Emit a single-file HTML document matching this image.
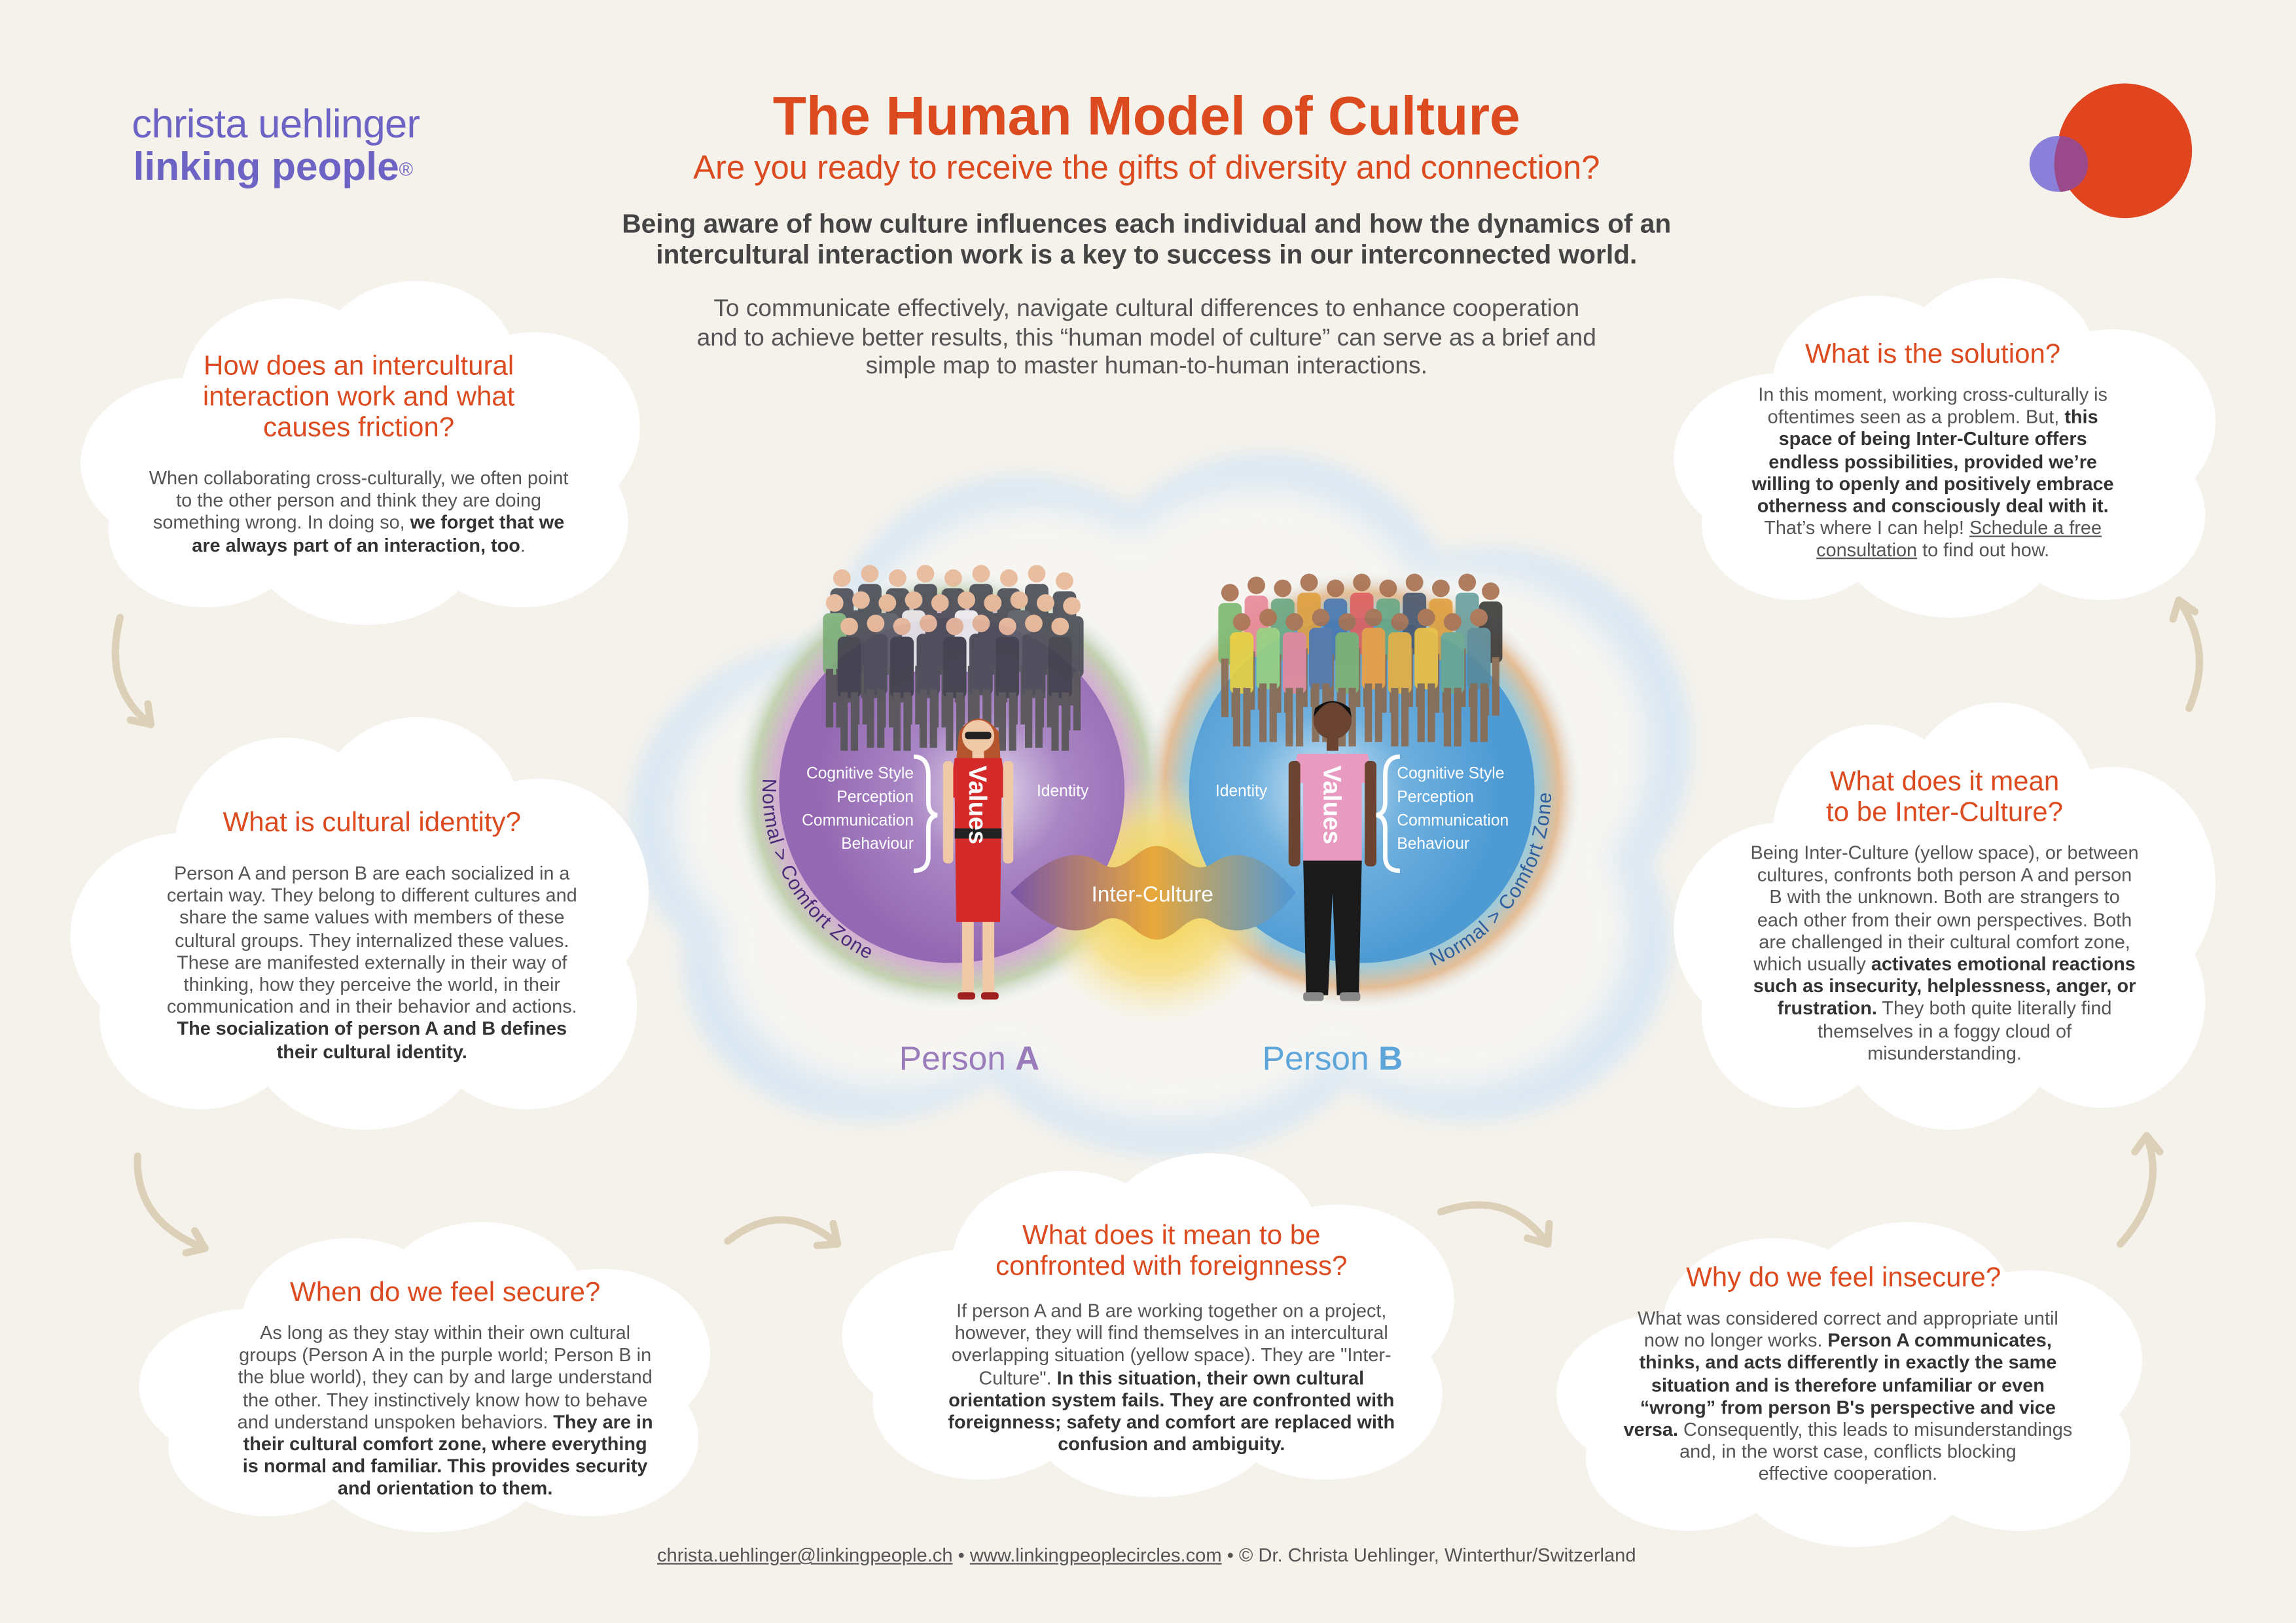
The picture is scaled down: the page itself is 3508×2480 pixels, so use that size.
<!DOCTYPE html>
<html><head><meta charset="utf-8">
<style>
*{margin:0;padding:0;box-sizing:border-box}
html,body{width:3508px;height:2480px;overflow:hidden;background:#f5f2eb}
#w{position:absolute;left:0;top:0;width:1568px;height:1109px;transform:scale(2.23724,2.2363);transform-origin:0 0;font-family:"Liberation Sans",sans-serif;color:#555}
.cloud{position:absolute}
.cloud span{position:absolute;border-radius:50%;background:#fff}
.t{position:absolute;text-align:center;transform:translateX(-50%)}
.ct{font-size:18.8px;line-height:21px;color:#dc4a1f}
.cb{font-size:12.9px;line-height:15.2px;color:#555}
.cb b{color:#333}
</style></head><body><div id="w">

<div style="position:absolute;left:90px;top:70px;font-size:27.5px;color:#6c63c4;line-height:30px;letter-spacing:-0.3px">christa uehlinger</div>
<div style="position:absolute;left:91px;top:99px;font-size:27px;font-weight:bold;color:#6c63c4;line-height:30px">linking people<sup style="font-size:13px;font-weight:normal;vertical-align:top;position:relative;top:2px">®</sup></div>
<div class="t" style="left:783px;top:58px;font-size:37.5px;font-weight:bold;color:#dc4a1f;white-space:nowrap">The Human Model of Culture</div>
<div class="t" style="left:783px;top:101px;font-size:22.7px;color:#dc4a1f;white-space:nowrap">Are you ready to receive the gifts of diversity and connection?</div>
<div class="t" style="left:783px;top:143px;font-size:18.2px;line-height:21px;font-weight:bold;color:#444;white-space:nowrap">Being aware of how culture influences each individual and how the dynamics of an<br>intercultural interaction work is a key to success in our interconnected world.</div>
<div class="t" style="left:783px;top:201px;font-size:16.6px;line-height:19.5px;color:#555;white-space:nowrap">To communicate effectively, navigate cultural differences to enhance cooperation<br>and to achieve better results, this “human model of culture” can serve as a brief and<br>simple map to master human-to-human interactions.</div>
<svg style="position:absolute;left:0;top:0" width="1568" height="1109">
<circle cx="1451" cy="103" r="46" fill="#e0451f"/>
<circle cx="1405" cy="112" r="19" fill="#8b80d9"/>
<path d="M1407,93 A19,19 0 0 1 1407,131 A46,46 0 0 1 1407,93Z" fill="#9a4a8a"/>
</svg>

<div class="cloud" style="left:430px;top:300px;width:725px;height:490px;filter:blur(6px)">
<span style="left:0;top:28%;width:40%;height:50%;background:#dbe8f3"></span><span style="left:18%;top:5%;width:38%;height:55%;background:#dbe8f3"></span><span style="left:42%;top:2%;width:36%;height:50%;background:#dbe8f3"></span><span style="left:62%;top:15%;width:38%;height:55%;background:#dbe8f3"></span><span style="left:60%;top:45%;width:38%;height:50%;background:#dbe8f3"></span><span style="left:30%;top:48%;width:42%;height:52%;background:#dbe8f3"></span><span style="left:5%;top:50%;width:35%;height:45%;background:#dbe8f3"></span><span style="left:10%;top:15%;width:80%;height:72%;background:#dbe8f3"></span>
</div>
<div class="cloud" style="left:460px;top:325px;width:665px;height:440px;filter:blur(10px)">
<span style="left:0;top:28%;width:40%;height:50%;background:#f6f5f1"></span><span style="left:18%;top:5%;width:38%;height:55%;background:#f6f5f1"></span><span style="left:42%;top:2%;width:36%;height:50%;background:#f6f5f1"></span><span style="left:62%;top:15%;width:38%;height:55%;background:#f6f5f1"></span><span style="left:60%;top:45%;width:38%;height:50%;background:#f6f5f1"></span><span style="left:30%;top:48%;width:42%;height:52%;background:#f6f5f1"></span><span style="left:5%;top:50%;width:35%;height:45%;background:#f6f5f1"></span><span style="left:10%;top:15%;width:80%;height:72%;background:#f6f5f1"></span>
</div>

<div class="cloud" style="left:55px;top:192px;width:382px;height:235px"><span style="left:0;top:28%;width:40%;height:50%"></span><span style="left:18%;top:5%;width:38%;height:55%"></span><span style="left:42%;top:0;width:36%;height:50%"></span><span style="left:62%;top:15%;width:38%;height:55%"></span><span style="left:60%;top:45%;width:38%;height:50%"></span><span style="left:30%;top:48%;width:42%;height:52%"></span><span style="left:5%;top:50%;width:35%;height:45%"></span><span style="left:10%;top:15%;width:80%;height:72%"></span></div>
<div class="cloud" style="left:48px;top:490px;width:395px;height:282px"><span style="left:0;top:28%;width:40%;height:50%"></span><span style="left:18%;top:5%;width:38%;height:55%"></span><span style="left:42%;top:0;width:36%;height:50%"></span><span style="left:62%;top:15%;width:38%;height:55%"></span><span style="left:60%;top:45%;width:38%;height:50%"></span><span style="left:30%;top:48%;width:42%;height:52%"></span><span style="left:5%;top:50%;width:35%;height:45%"></span><span style="left:10%;top:15%;width:80%;height:72%"></span></div>
<div class="cloud" style="left:95px;top:835px;width:390px;height:212px"><span style="left:0;top:28%;width:40%;height:50%"></span><span style="left:18%;top:5%;width:38%;height:55%"></span><span style="left:42%;top:0;width:36%;height:50%"></span><span style="left:62%;top:15%;width:38%;height:55%"></span><span style="left:60%;top:45%;width:38%;height:50%"></span><span style="left:30%;top:48%;width:42%;height:52%"></span><span style="left:5%;top:50%;width:35%;height:45%"></span><span style="left:10%;top:15%;width:80%;height:72%"></span></div>
<div class="cloud" style="left:575px;top:788px;width:418px;height:235px"><span style="left:0;top:28%;width:40%;height:50%"></span><span style="left:18%;top:5%;width:38%;height:55%"></span><span style="left:42%;top:0;width:36%;height:50%"></span><span style="left:62%;top:15%;width:38%;height:55%"></span><span style="left:60%;top:45%;width:38%;height:50%"></span><span style="left:30%;top:48%;width:42%;height:52%"></span><span style="left:5%;top:50%;width:35%;height:45%"></span><span style="left:10%;top:15%;width:80%;height:72%"></span></div>
<div class="cloud" style="left:1063px;top:835px;width:400px;height:222px"><span style="left:0;top:28%;width:40%;height:50%"></span><span style="left:18%;top:5%;width:38%;height:55%"></span><span style="left:42%;top:0;width:36%;height:50%"></span><span style="left:62%;top:15%;width:38%;height:55%"></span><span style="left:60%;top:45%;width:38%;height:50%"></span><span style="left:30%;top:48%;width:42%;height:52%"></span><span style="left:5%;top:50%;width:35%;height:45%"></span><span style="left:10%;top:15%;width:80%;height:72%"></span></div>
<div class="cloud" style="left:1143px;top:480px;width:370px;height:292px"><span style="left:0;top:28%;width:40%;height:50%"></span><span style="left:18%;top:5%;width:38%;height:55%"></span><span style="left:42%;top:0;width:36%;height:50%"></span><span style="left:62%;top:15%;width:38%;height:55%"></span><span style="left:60%;top:45%;width:38%;height:50%"></span><span style="left:30%;top:48%;width:42%;height:52%"></span><span style="left:5%;top:50%;width:35%;height:45%"></span><span style="left:10%;top:15%;width:80%;height:72%"></span></div>
<div class="cloud" style="left:1143px;top:190px;width:370px;height:232px"><span style="left:0;top:28%;width:40%;height:50%"></span><span style="left:18%;top:5%;width:38%;height:55%"></span><span style="left:42%;top:0;width:36%;height:50%"></span><span style="left:62%;top:15%;width:38%;height:55%"></span><span style="left:60%;top:45%;width:38%;height:50%"></span><span style="left:30%;top:48%;width:42%;height:52%"></span><span style="left:5%;top:50%;width:35%;height:45%"></span><span style="left:10%;top:15%;width:80%;height:72%"></span></div>

<svg style="position:absolute;left:0;top:0" width="1568" height="1109">
<defs>
<radialGradient id="halo"><stop offset="0.8" stop-color="#c9a0c8"/><stop offset="0.9" stop-color="#b8c9a0"/><stop offset="1" stop-color="#dde8f0" stop-opacity="0"/></radialGradient>
<radialGradient id="haloB"><stop offset="0.8" stop-color="#8cc0d0"/><stop offset="0.9" stop-color="#e0b080"/><stop offset="1" stop-color="#dde8f0" stop-opacity="0"/></radialGradient>
<radialGradient id="pa" cx="0.6" cy="0.5"><stop offset="0" stop-color="#e6dcee"/><stop offset="0.45" stop-color="#a986c4"/><stop offset="1" stop-color="#9468b2"/></radialGradient>
<radialGradient id="pb" cx="0.4" cy="0.5"><stop offset="0" stop-color="#d8eaf6"/><stop offset="0.45" stop-color="#6fb0de"/><stop offset="1" stop-color="#4e9bd4"/></radialGradient>
<radialGradient id="yel"><stop offset="0" stop-color="#f4cf3a"/><stop offset="0.6" stop-color="#f6dc7a" stop-opacity="0.8"/><stop offset="1" stop-color="#f6e6b0" stop-opacity="0"/></radialGradient>
<linearGradient id="ic" x1="0" x2="1"><stop offset="0" stop-color="#7a55a8"/><stop offset="0.5" stop-color="#e8a83a"/><stop offset="1" stop-color="#4f98d6"/></linearGradient>
<symbol id="p" overflow="visible"><rect x="-8" y="7" width="16" height="42" rx="4"/><rect x="-6" y="45" width="5" height="40" fill="#555"/><rect x="1" y="45" width="5" height="40" fill="#555"/><circle cx="0" cy="0" r="6" fill="#e8b898"/></symbol>
<symbol id="q" overflow="visible"><rect x="-8" y="7" width="16" height="42" rx="4"/><rect x="-6" y="45" width="5" height="40" fill="#8a6a50"/><rect x="1" y="45" width="5" height="40" fill="#8a6a50"/><circle cx="0" cy="0" r="6" fill="#a87050"/></symbol>
</defs>
<circle cx="650" cy="540" r="150" fill="url(#halo)" opacity="0.8"/>
<circle cx="930" cy="540" r="150" fill="url(#haloB)" opacity="0.8"/>
<circle cx="790" cy="615" r="85" fill="url(#yel)"/>
<circle cx="650" cy="540" r="118" fill="url(#pa)"/>
<circle cx="930" cy="540" r="118" fill="url(#pb)"/>
<g fill="#4a4c55" opacity="0.9">
<use href="#p" x="575" y="395"/><use href="#p" x="594" y="392"/><use href="#p" x="613" y="395"/><use href="#p" x="632" y="392"/><use href="#p" x="651" y="395"/><use href="#p" x="670" y="392"/><use href="#p" x="689" y="395"/><use href="#p" x="708" y="392"/><use href="#p" x="727" y="397"/>
<use href="#p" x="570" y="412" fill="#7cae78"/><use href="#p" x="588" y="410"/><use href="#p" x="606" y="412" fill="#5a5d66"/><use href="#p" x="624" y="410" fill="#e8e8e8"/><use href="#p" x="642" y="412"/><use href="#p" x="660" y="410" fill="#f0f0f0"/><use href="#p" x="678" y="412"/><use href="#p" x="696" y="410" fill="#5a5d66"/><use href="#p" x="714" y="412"/><use href="#p" x="732" y="414"/>
<use href="#p" x="580" y="428" fill="#3e4048"/><use href="#p" x="598" y="426"/><use href="#p" x="616" y="428" fill="#3e4048"/><use href="#p" x="634" y="426"/><use href="#p" x="652" y="428" fill="#3e4048"/><use href="#p" x="670" y="426"/><use href="#p" x="688" y="428" fill="#3e4048"/><use href="#p" x="706" y="426"/><use href="#p" x="724" y="428" fill="#3e4048"/>
</g>
<g fill="#6aa884" opacity="0.9">
<use href="#q" x="840" y="405" fill="#7cb870"/><use href="#q" x="858" y="400" fill="#e8889a"/><use href="#q" x="876" y="402"/><use href="#q" x="894" y="398" fill="#e0a040"/><use href="#q" x="912" y="402" fill="#4a78b0"/><use href="#q" x="930" y="398" fill="#e06060"/><use href="#q" x="948" y="402"/><use href="#q" x="966" y="398" fill="#4a5870"/><use href="#q" x="984" y="402" fill="#e0a040"/><use href="#q" x="1002" y="398" fill="#6aa0a0"/><use href="#q" x="1018" y="404" fill="#3a3a3a"/>
<use href="#q" x="848" y="425" fill="#e8d040"/><use href="#q" x="866" y="422" fill="#9ad080"/><use href="#q" x="884" y="425" fill="#e8889a"/><use href="#q" x="902" y="422" fill="#5878a8"/><use href="#q" x="920" y="425" fill="#80b070"/><use href="#q" x="938" y="422" fill="#f0a040"/><use href="#q" x="956" y="425" fill="#e8b040"/><use href="#q" x="974" y="422" fill="#f0c040"/><use href="#q" x="992" y="425" fill="#6aa890"/><use href="#q" x="1010" y="422" fill="#5a8a9a"/>
</g>
<path d="M690,610 C715,585 735,578 752,590 C768,600 775,578 790,578 C805,578 812,600 828,590 C845,578 865,585 885,610 C865,635 845,642 828,630 C812,620 805,642 790,642 C775,642 768,620 752,630 C735,642 715,635 690,610Z" fill="url(#ic)"/>
<text x="787" y="616" font-size="15" fill="#fff" text-anchor="middle" font-family="Liberation Sans">Inter-Culture</text>
<g>
<path d="M655,500 Q668,482 682,500 L684,530 L652,530Z" fill="#b5552e"/>
<circle cx="668" cy="503" r="11" fill="#f0c9a8"/>
<rect x="659" y="500" width="18" height="5" fill="#222" rx="2"/>
<rect x="664" y="512" width="8" height="8" fill="#f0c9a8"/>
<path d="M652,518 L684,518 L688,545 L684,545 L683,630 L653,630 L652,545 L648,545Z" fill="#d42a2a"/>
<rect x="652" y="566" width="32" height="7" fill="#222"/>
<rect x="644" y="520" width="7" height="70" fill="#f0c9a8" rx="3"/><rect x="685" y="520" width="7" height="70" fill="#f0c9a8" rx="3"/>
<rect x="657" y="630" width="8" height="50" fill="#f0c9a8"/><rect x="671" y="630" width="8" height="50" fill="#f0c9a8"/>
<rect x="654" y="678" width="12" height="5" fill="#a02020" rx="2"/><rect x="670" y="678" width="12" height="5" fill="#a02020" rx="2"/>
<text transform="translate(662,550) rotate(90)" font-size="17" fill="#fff" font-weight="bold" text-anchor="middle" font-family="Liberation Sans">Values</text>
</g>
<g>
<circle cx="910" cy="492" r="13" fill="#6a4430"/>
<path d="M897,490 Q910,470 923,490 L922,484 Q910,474 898,484Z" fill="#111"/>
<rect x="906" y="503" width="8" height="10" fill="#6a4430"/>
<path d="M886,515 L934,515 L938,535 L930,535 L930,590 L890,590 L890,535 L882,535Z" fill="#e89ac0"/>
<rect x="880" y="520" width="8" height="72" fill="#6a4430" rx="3"/><rect x="932" y="520" width="8" height="72" fill="#6a4430" rx="3"/>
<path d="M890,588 L930,588 L928,680 L913,680 L910,610 L907,680 L892,680Z" fill="#1a1a1a"/>
<rect x="890" y="678" width="14" height="6" fill="#888" rx="2"/><rect x="915" y="678" width="14" height="6" fill="#888" rx="2"/>
<text transform="translate(904,550) rotate(90)" font-size="17" fill="#fff" font-weight="bold" text-anchor="middle" font-family="Liberation Sans">Values</text>
</g>
<g font-family="Liberation Sans" font-size="11" fill="#fff">
<text x="624" y="532" text-anchor="end">Cognitive Style</text>
<text x="624" y="548" text-anchor="end">Perception</text>
<text x="624" y="564" text-anchor="end">Communication</text>
<text x="624" y="580" text-anchor="end">Behaviour</text>
<text x="708" y="544">Identity</text>
<text x="830" y="544">Identity</text>
<text x="954" y="532">Cognitive Style</text>
<text x="954" y="548">Perception</text>
<text x="954" y="564">Communication</text>
<text x="954" y="580">Behaviour</text>
</g>
<path d="M624,517 Q634,517 634,530 L634,548 Q634,556 640,557 Q634,558 634,566 L634,585 Q634,595 624,595" fill="none" stroke="#fff" stroke-width="3"/>
<path d="M956,517 Q946,517 946,530 L946,548 Q946,556 940,557 Q946,558 946,566 L946,585 Q946,595 956,595" fill="none" stroke="#fff" stroke-width="3"/>
<path id="arcA" d="M521,532 A129,129 0 0 0 606,661" fill="none"/>
<path id="arcB" d="M979,660 A129,129 0 0 0 1058,522" fill="none"/>
<text font-family="Liberation Sans" font-size="13.5" fill="#4b2a7a" letter-spacing="0.5"><textPath href="#arcA">Normal &gt; Comfort Zone</textPath></text>
<text font-family="Liberation Sans" font-size="13.5" fill="#2e5e9e" letter-spacing="0.5"><textPath href="#arcB">Normal &gt; Comfort Zone</textPath></text>
<text x="662" y="731" font-family="Liberation Sans" font-size="23" fill="#9a7cba" text-anchor="middle">Person <tspan font-weight="bold">A</tspan></text>
<text x="910" y="731" font-family="Liberation Sans" font-size="23" fill="#5ea5da" text-anchor="middle">Person <tspan font-weight="bold">B</tspan></text>
<g fill="none" stroke="#ddd0b8" stroke-width="5" stroke-linecap="round" stroke-linejoin="round">
<path d="M82,422 Q70,470 103,495"/><path d="M89,492 L103,495 L101,481"/>
<path d="M94,790 Q92,835 140,853"/><path d="M127,856 L140,853 L133,841"/>
<path d="M497,848 Q535,818 572,850"/><path d="M558,851 L572,850 L569,836"/>
<path d="M984,828 Q1030,812 1057,850"/><path d="M1043,846 L1057,850 L1058,836"/>
<path d="M1448,850 Q1480,815 1466,776"/><path d="M1458,787 L1466,776 L1475,787"/>
<path d="M1495,484 Q1512,445 1488,410"/><path d="M1484,423 L1488,410 L1499,418"/>
</g>
</svg>

<div class="t ct" style="left:245px;top:239px;width:330px">How does an intercultural<br>interaction work and what<br>causes friction?</div>
<div class="t cb" style="left:245px;top:319px;width:360px">When collaborating cross-culturally, we often point<br>to the other person and think they are doing<br>something wrong. In doing so, <b>we forget that we<br>are always part of an interaction, too</b>.</div>

<div class="t ct" style="left:254px;top:551px;width:330px">What is cultural identity?</div>
<div class="t cb" style="left:254px;top:589px;width:360px">Person A and person B are each socialized in a<br>certain way. They belong to different cultures and<br>share the same values with members of these<br>cultural groups. They internalized these values.<br>These are manifested externally in their way of<br>thinking, how they perceive the world, in their<br>communication and in their behavior and actions.<br><b>The socialization of person A and B defines<br>their cultural identity.</b></div>

<div class="t ct" style="left:304px;top:872px;width:330px">When do we feel secure?</div>
<div class="t cb" style="left:304px;top:903px;width:360px">As long as they stay within their own cultural<br>groups (Person A in the purple world; Person B in<br>the blue world), they can by and large understand<br>the other. They instinctively know how to behave<br>and understand unspoken behaviors. <b>They are in<br>their cultural comfort zone, where everything<br>is normal and familiar. This provides security<br>and orientation to them.</b></div>

<div class="t ct" style="left:800px;top:833px;width:360px">What does it mean to be<br>confronted with foreignness?</div>
<div class="t cb" style="left:800px;top:888px;width:380px">If person A and B are working together on a project,<br>however, they will find themselves in an intercultural<br>overlapping situation (yellow space). They are "Inter-<br>Culture". <b>In this situation, their own cultural<br>orientation system fails. They are confronted with<br>foreignness; safety and comfort are replaced with<br>confusion and ambiguity.</b></div>

<div class="t ct" style="left:1259px;top:862px;width:330px">Why do we feel insecure?</div>
<div class="t cb" style="left:1262px;top:893px;width:380px">What was considered correct and appropriate until<br>now no longer works. <b>Person A communicates,<br>thinks, and acts differently in exactly the same<br>situation and is therefore unfamiliar or even<br>“wrong” from person B's perspective and vice<br>versa.</b> Consequently, this leads to misunderstandings<br>and, in the worst case, conflicts blocking<br>effective cooperation.</div>

<div class="t ct" style="left:1328px;top:523px;width:330px">What does it mean<br>to be Inter-Culture?</div>
<div class="t cb" style="left:1328px;top:575px;width:340px">Being Inter-Culture (yellow space), or between<br>cultures, confronts both person A and person<br>B with the unknown. Both are strangers to<br>each other from their own perspectives. Both<br>are challenged in their cultural comfort zone,<br>which usually <b>activates emotional reactions<br>such as insecurity, helplessness, anger, or<br>frustration.</b> They both quite literally find<br>themselves in a foggy cloud of<br>misunderstanding.</div>

<div class="t ct" style="left:1320px;top:231px;width:330px">What is the solution?</div>
<div class="t cb" style="left:1320px;top:262px;width:320px">In this moment, working cross-culturally is<br>oftentimes seen as a problem. But, <b>this<br>space of being Inter-Culture offers<br>endless possibilities, provided we’re<br>willing to openly and positively embrace<br>otherness and consciously deal with it.</b><br>That’s where I can help! <u>Schedule a free<br>consultation</u> to find out how.</div>

<div class="t" style="left:783px;top:1055px;font-size:13px;color:#555;white-space:nowrap"><u>christa.uehlinger@linkingpeople.ch</u> • <u>www.linkingpeoplecircles.com</u> • © Dr. Christa Uehlinger, Winterthur/Switzerland</div>
</div></body></html>
